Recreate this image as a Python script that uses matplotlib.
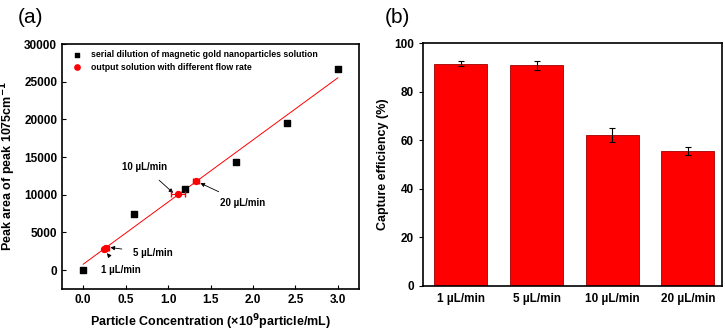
import matplotlib.pyplot as plt
import numpy as np

plt.rcParams['font.family'] = ['Liberation Sans', 'DejaVu Sans']
plt.rcParams['font.weight'] = 'bold'

# (a) serial dilution standards
conc = [0.0, 0.6, 1.2, 1.8, 2.4, 3.0]
peak = [0, 7500, 10800, 14400, 19500, 26700]

# (a) output solutions for each flow rate
out_labels = ['1 µL/min', '5 µL/min', '10 µL/min', '20 µL/min']
out_conc = [0.25, 0.27, 1.12, 1.33]
out_conc_err = [0.02, 0.03, 0.08, 0.04]
out_peak = [2850, 2950, 10100, 11800]

# (b) capture efficiency
flow_rates = ['1 µL/min', '5 µL/min', '10 µL/min', '20 µL/min']
efficiency = [91.5, 90.8, 62.2, 55.6]
eff_err = [0.9, 1.8, 2.8, 1.5]

fig = plt.figure(figsize=(7.25, 3.31), dpi=100)

# ---- panel (a)
ax1 = fig.add_axes([0.0855, 0.127, 0.4097, 0.740])
ax1.scatter(conc, peak, marker='s', s=14, color='black', zorder=3,
            label='serial dilution of magnetic gold nanoparticles solution')
ax1.errorbar(out_conc, out_peak, xerr=out_conc_err, fmt='none', ecolor='red',
             elinewidth=0.8, capsize=2, zorder=4)
ax1.scatter(out_conc, out_peak, marker='o', s=18, color='red', zorder=5,
            label='output solution with different flow rate')

# linear fit of the standards
k, b = np.polyfit(conc, peak, 1)
xf = np.array([conc[0], conc[-1]])
ax1.plot(xf, k * xf + b, color='red', lw=0.7, zorder=2)

# annotations: (text pos, arrow target)
ann = {
    '10 µL/min': ((0.72, 13700), (1.06, 10250)),
    '20 µL/min': ((1.88, 8900), (1.38, 11550)),
    '5 µL/min': ((0.82, 2250), (0.32, 3000)),
    '1 µL/min': ((0.44, 0), (0.28, 2250)),
}
for lab, (txt, tgt) in ann.items():
    ax1.annotate(lab, xy=tgt, xytext=txt, fontsize=7, fontweight='bold',
                 ha='center', va='center',
                 arrowprops=dict(arrowstyle='-|>', color='black', lw=0.6,
                                 mutation_scale=6, shrinkA=6, shrinkB=0))

ax1.set_xlim(-0.25, 3.25)
ax1.set_ylim(-2500, 30000)
ax1.set_xticks(np.arange(0, 3.01, 0.5))
ax1.set_yticks(np.arange(0, 30001, 5000))
ax1.tick_params(direction='in', labelsize=8.5, length=3)
ax1.set_xlabel('Particle Concentration (×10$^{\\mathbf{9}}$particle/mL)',
               fontsize=9, fontweight='bold', labelpad=5)
ax1.set_ylabel('Peak area of peak 1075cm$^{\\mathbf{-1}}$', fontsize=9,
               fontweight='bold')
ax1.legend(loc='upper left', frameon=False, handletextpad=0.6,
           borderaxespad=0.3, labelspacing=0.4, markerscale=0.9,
           prop={'weight': 'bold', 'size': 6.3})
for s in ax1.spines.values():
    s.set_linewidth(1.2)
fig.text(0.025, 0.975, '(a)', fontsize=15, fontweight='normal', va='top')

# ---- panel (b)
ax2 = fig.add_axes([0.5834, 0.136, 0.4124, 0.734])
x = np.arange(len(flow_rates))
ax2.bar(x, efficiency, width=0.7, color='#ff0000', edgecolor='#a00000',
        linewidth=0.6, yerr=eff_err, capsize=2,
        error_kw=dict(elinewidth=0.8, capthick=0.8, ecolor='black'))
ax2.set_xlim(-0.5, 3.45)
ax2.set_ylim(0, 100)
ax2.set_xticks(x)
ax2.set_xticklabels(flow_rates)
ax2.set_yticks(np.arange(0, 101, 20))
ax2.tick_params(axis='y', direction='out', labelsize=8.5, length=3)
ax2.tick_params(axis='x', length=0, labelsize=8.5, pad=5)
ax2.set_ylabel('Capture efficiency (%)', fontsize=9, fontweight='bold')
for s in ax2.spines.values():
    s.set_linewidth(1.2)
fig.text(0.53, 0.975, '(b)', fontsize=15, fontweight='normal', va='top')

fig.savefig('out.png', dpi=100)
